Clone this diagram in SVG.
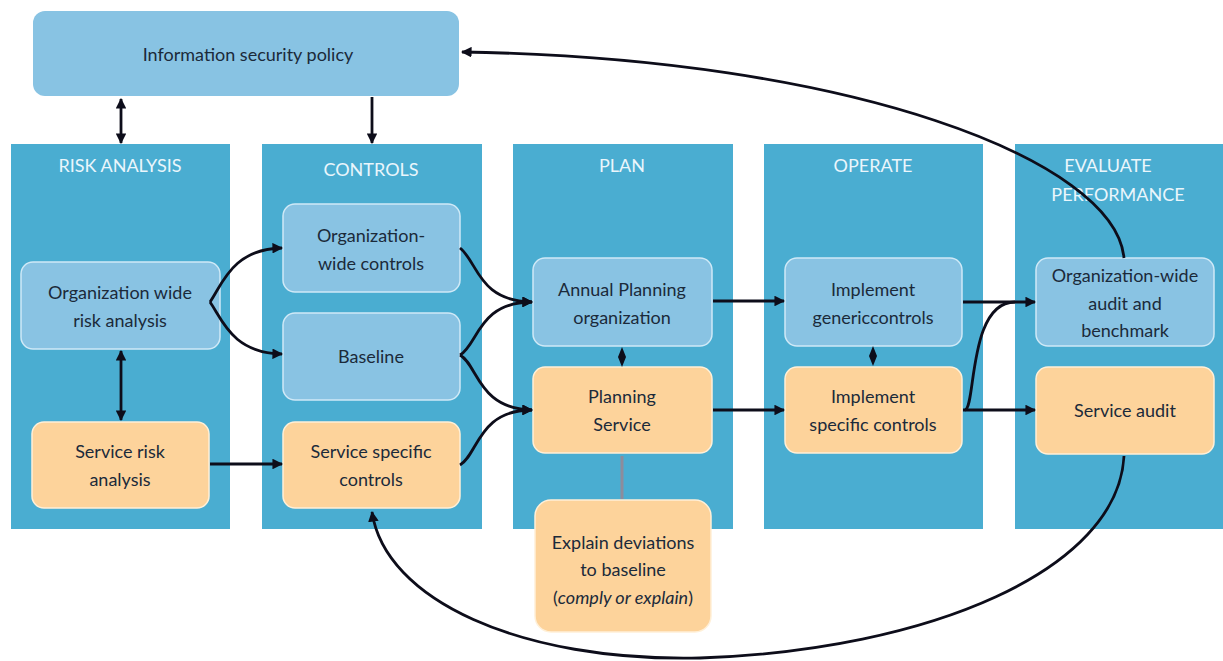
<svg xmlns="http://www.w3.org/2000/svg" width="1223" height="661" viewBox="0 0 1223 661">
<style>
.panel{fill:#4aadd1}
.blue{fill:#89c3e3;stroke:#cfe9f7;stroke-width:1.5}
.orange{fill:#fdd39b;stroke:#fff0d8;stroke-width:1.5}
.t{font-family:Lato,"Liberation Sans",sans-serif;font-size:18px;fill:#1b2a3a;text-anchor:middle}
.h{font-family:Lato,"Liberation Sans",sans-serif;font-size:18px;fill:#eaf6fc;text-anchor:middle}
.c{fill:none;stroke:#0d0d1a;stroke-width:2.8}
</style>
<defs>
<marker id="ah" viewBox="0 0 10 10" refX="9" refY="5" markerWidth="3.8" markerHeight="3.8" orient="auto-start-reverse" markerUnits="strokeWidth">
<path d="M0,0 L10,5 L0,10 z" fill="#0d0d1a"/>
</marker>
</defs>
<rect width="1223" height="661" fill="#ffffff"/>
<g id="policy">
<rect x="33" y="11" width="426" height="85" rx="12" fill="#88c3e3"/>
<text class="t" x="248" y="61">Information security policy</text>
</g>
<g id="col-risk"><rect class="panel" x="11" y="144" width="219" height="385"/><text class="h" x="120" y="172">RISK ANALYSIS</text></g>
<g id="col-controls"><rect class="panel" x="262" y="144" width="220" height="385"/><text class="h" x="371" y="176">CONTROLS</text></g>
<g id="col-plan"><rect class="panel" x="513" y="144" width="220" height="385"/><text class="h" x="622" y="172">PLAN</text></g>
<g id="col-operate"><rect class="panel" x="764" y="144" width="219" height="385"/><text class="h" x="873" y="172">OPERATE</text></g>
<g id="col-evaluate"><rect class="panel" x="1015" y="144" width="215" height="385"/><text class="h" x="1108" y="172">EVALUATE</text><text class="h" x="1118" y="201">PERFORMANCE</text></g>
<g id="org-risk"><rect class="blue" x="21" y="262" width="199" height="87" rx="12"/><text class="t" x="120" y="299">Organization wide</text><text class="t" x="120" y="327">risk analysis</text></g>
<g id="service-risk"><rect class="orange" x="32" y="422" width="177" height="86" rx="12"/><text class="t" x="120" y="458">Service risk</text><text class="t" x="120" y="486">analysis</text></g>
<g id="org-controls"><rect class="blue" x="283" y="204" width="177" height="88" rx="12"/><text class="t" x="371" y="242">Organization-</text><text class="t" x="371" y="270">wide controls</text></g>
<g id="baseline"><rect class="blue" x="283" y="313" width="177" height="87" rx="12"/><text class="t" x="371" y="363">Baseline</text></g>
<g id="service-controls"><rect class="orange" x="283" y="422" width="177" height="86" rx="12"/><text class="t" x="371" y="458">Service specific</text><text class="t" x="371" y="486">controls</text></g>
<g id="annual-planning"><rect class="blue" x="533" y="258" width="179" height="88" rx="12"/><text class="t" x="622" y="296">Annual Planning</text><text class="t" x="622" y="324">organization</text></g>
<g id="planning-service"><rect class="orange" x="533" y="367" width="179" height="86" rx="12"/><text class="t" x="622" y="403">Planning</text><text class="t" x="622" y="431">Service</text></g>
<g id="implement-generic"><rect class="blue" x="785" y="258" width="177" height="88" rx="12"/><text class="t" x="873" y="296">Implement</text><text class="t" x="873" y="324">genericcontrols</text></g>
<g id="implement-specific"><rect class="orange" x="785" y="367" width="177" height="86" rx="12"/><text class="t" x="873" y="403">Implement</text><text class="t" x="873" y="431">specific controls</text></g>
<g id="org-audit"><rect class="blue" x="1036" y="258" width="178" height="88" rx="12"/><text class="t" x="1125" y="282">Organization-wide</text><text class="t" x="1125" y="310">audit and</text><text class="t" x="1125" y="337">benchmark</text></g>
<g id="service-audit"><rect class="orange" x="1036" y="367" width="178" height="87" rx="12"/><text class="t" x="1125" y="417">Service audit</text></g>
<g id="explain"><rect class="orange" x="535" y="500" width="176" height="132" rx="16"/><text class="t" x="623" y="549">Explain deviations</text><text class="t" x="623" y="576">to baseline</text><text class="t" x="623" y="604">(<tspan font-style="italic">comply or explain</tspan>)</text></g>
<g id="connectors">
<path class="c" d="M121,99 L121,143" marker-start="url(#ah)" marker-end="url(#ah)"/>
<path class="c" d="M372,97 L372,143" marker-end="url(#ah)"/>
<path class="c" d="M121,351 L121,420" marker-start="url(#ah)" marker-end="url(#ah)"/>
<path class="c" d="M210,464 L282,464" marker-end="url(#ah)"/>
<path class="c" d="M210,302 C222,285 232,249 282,248" marker-end="url(#ah)"/>
<path class="c" d="M210,302 C222,319 232,353 282,354" marker-end="url(#ah)"/>
<path class="c" d="M460,248 C478,262 478,301 532,302" marker-end="url(#ah)"/>
<path class="c" d="M460,355 C478,345 478,302 532,302" marker-end="url(#ah)"/>
<path class="c" d="M460,355 C478,365 478,409 532,410" marker-end="url(#ah)"/>
<path class="c" d="M460,465 C478,455 478,410 532,410" marker-end="url(#ah)"/>
<path class="c" d="M713,301 L784,301" marker-end="url(#ah)"/>
<path class="c" d="M713,410 L784,410" marker-end="url(#ah)"/>
<path class="c" d="M963,302 L1035,302" marker-end="url(#ah)"/>
<path class="c" d="M963,410 L1035,410" marker-end="url(#ah)"/>
<path class="c" d="M965,410 C976,408 968,302 1015,302"/>
<polygon points="622,347 626,357 622,367 618,357" fill="#0d0d1a"/>
<polygon points="873,346 877,356 873,366 869,356" fill="#0d0d1a"/>
<path d="M622,456 L622,499" fill="none" stroke="#8c8c9c" stroke-width="3"/>
<path class="c" d="M1124,258 C1115,160 850,58 462,52" marker-end="url(#ah)"/>
<path class="c" d="M1124,456 C1118,570 930,650 700,658 C520,662 385,600 372,512" marker-end="url(#ah)"/>
</g>
</svg>
